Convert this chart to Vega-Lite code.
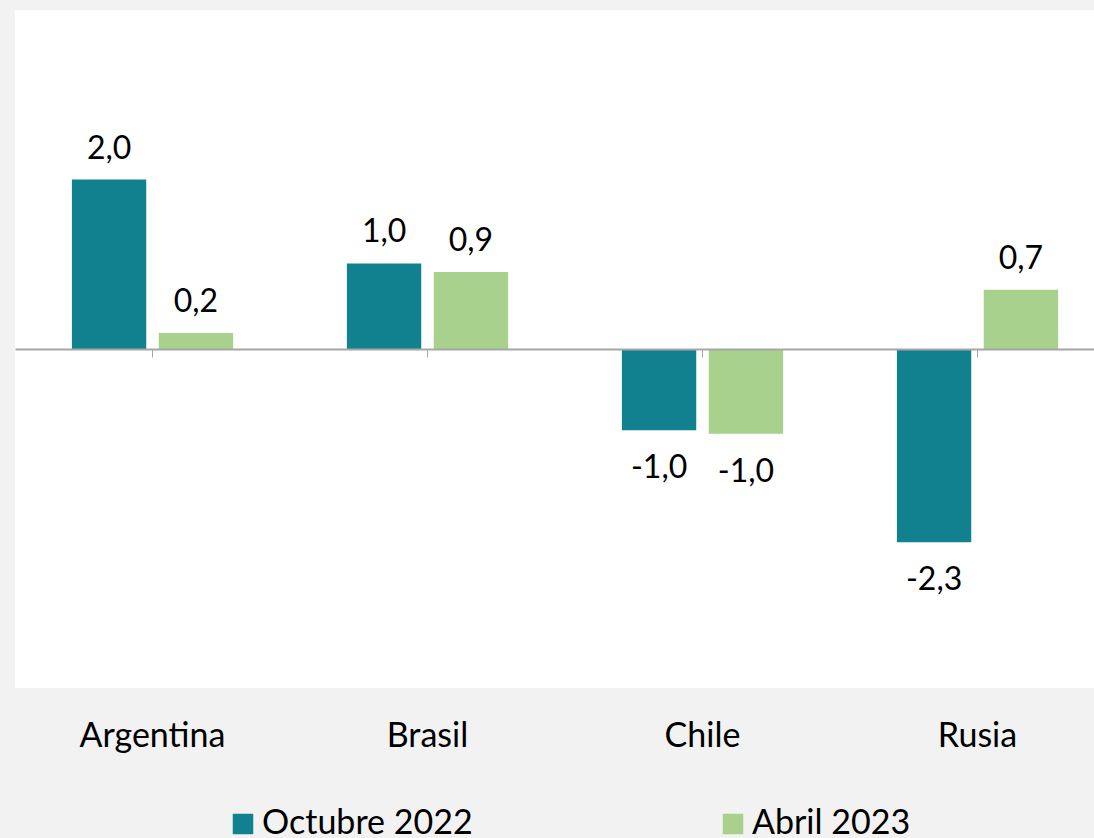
{
  "$schema": "https://vega.github.io/schema/vega-lite/v6.json",
  "width": 1079,
  "height": 678,
  "autosize": {"type": "none"},
  "padding": {"left": 15, "top": 10, "right": 0, "bottom": 150},
  "background": "#f2f2f2",
  "config": {
    "view": {"fill": "white", "stroke": null},
    "font": "Lato",
    "locale": {"number": {"decimal": ",", "thousands": ".", "grouping": [3], "currency": ["", " €"], "minus": "-"}}
  },
  "data": {
    "values": [
      {"pais": "Argentina", "serie": "Octubre 2022", "valor": 2.0},
      {"pais": "Argentina", "serie": "Abril 2023", "valor": 0.19},
      {"pais": "Brasil", "serie": "Octubre 2022", "valor": 1.01},
      {"pais": "Brasil", "serie": "Abril 2023", "valor": 0.91},
      {"pais": "Chile", "serie": "Octubre 2022", "valor": -0.96},
      {"pais": "Chile", "serie": "Abril 2023", "valor": -1.0},
      {"pais": "Rusia", "serie": "Octubre 2022", "valor": -2.28},
      {"pais": "Rusia", "serie": "Abril 2023", "valor": 0.7}
    ]
  },
  "encoding": {
    "x": {
      "field": "pais", "type": "nominal", "sort": null, "title": null,
      "scale": {"range": [0, 1100], "padding": 0},
      "axis": {
        "orient": "bottom", "offset": -339, "zindex": 1,
        "domainColor": "#a6a6a6", "domainWidth": 2,
        "tickColor": "#a6a6a6", "tickSize": 8, "tickWidth": 1,
        "labelFont": "Lato", "labelFontSize": 34, "labelColor": "black",
        "labelPadding": 389, "labelBaseline": "alphabetic", "labelAngle": 0
      }
    },
    "xOffset": {
      "field": "serie", "type": "nominal",
      "scale": {"domain": ["Octubre 2022", "Abril 2023"], "paddingInner": 0.144, "paddingOuter": 0.655}
    },
    "y": {
      "field": "valor", "type": "quantitative",
      "scale": {"domain": [-4, 4], "nice": false, "zero": false},
      "axis": null
    }
  },
  "layer": [
    {
      "mark": {"type": "bar"},
      "encoding": {
        "color": {
          "field": "serie", "type": "nominal",
          "scale": {"domain": ["Octubre 2022", "Abril 2023"], "range": ["#11808F", "#A9D18E"]},
          "legend": {
            "title": null, "orient": "none", "legendX": 211, "legendY": 797,
            "direction": "horizontal", "columnPadding": 243, "padding": 0,
            "symbolType": "square", "symbolSize": 420, "symbolStrokeWidth": 0,
            "labelFont": "Lato", "labelFontSize": 34, "labelColor": "black", "labelOffset": 2, "labelLimit": 400
          }
        }
      }
    },
    {
      "transform": [{"filter": "datum.valor >= 0"}],
      "mark": {"type": "text", "baseline": "alphabetic", "dy": -21, "fontSize": 32, "color": "black", "font": "Lato"},
      "encoding": {"text": {"field": "valor", "type": "quantitative", "format": ".1f"}}
    },
    {
      "transform": [{"filter": "datum.valor < 0"}],
      "mark": {"type": "text", "baseline": "alphabetic", "dy": 48, "fontSize": 32, "color": "black", "font": "Lato"},
      "encoding": {"text": {"field": "valor", "type": "quantitative", "format": ".1f"}}
    }
  ]
}
